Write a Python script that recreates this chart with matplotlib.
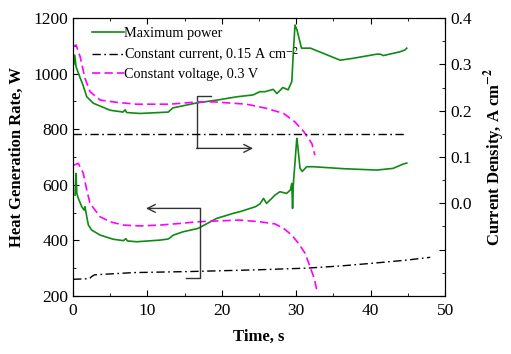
import matplotlib
matplotlib.use("Agg")
import matplotlib.pyplot as plt
from matplotlib.ticker import MultipleLocator, FuncFormatter

plt.rcParams['font.family'] = ['Liberation Serif', 'DejaVu Serif']
plt.rcParams['mathtext.fontset'] = 'stix'

# ---- Heat generation rate (left axis, W) ----
mp_heat_t = [0.27, 0.4, 0.5, 0.71, 1.17, 1.48, 1.6, 1.84, 2.06, 2.5, 3.63, 5.4, 6.76, 7.1, 7.3,
             8.56, 11.7, 12.8, 13.5, 14.8, 16.8, 19.3, 21.5, 22.4, 23.8, 24.5, 25.1, 25.6, 26.0,
             26.7, 27.15, 27.8, 28.7, 29.2, 29.4, 29.5, 29.6, 30.07, 30.2, 30.5, 30.8, 31.4,
             32.3, 36.3, 40.8, 43.0, 44.4, 44.85]
mp_heat_w = [563, 641, 569, 551, 521, 509, 521, 485, 455, 437, 419, 404, 399, 406, 398,
             395, 401, 405, 419, 431, 443, 479, 497, 503, 515, 521, 531, 551, 533,
             551, 563, 575, 569, 581, 605, 515, 600, 767, 740, 660, 648, 665,
             665, 658, 653, 659, 675, 678]

cv_heat_t = [0.13, 0.71, 1.38, 1.84, 2.28, 3.63, 4.97, 6.76, 9.0, 11.7, 14.4, 16.8, 22.4,
             25.1, 27.15, 28.3, 29.4, 30.3, 31.2, 31.85, 32.4, 32.75]
cv_heat_w = [671, 677, 641, 581, 533, 485, 467, 455, 452, 455, 461, 467, 473,
             467, 459, 443, 419, 389, 353, 305, 264, 222]

cc_heat_t = [0.0, 2.2, 2.5, 2.9, 8.1, 16.0, 24.7, 31.4, 36.0, 40.4, 44.85, 48.0]
cc_heat_w = [260, 262, 270, 276, 284, 288, 294, 300, 308, 318, 329, 339]

# ---- Current density (right axis, A cm-2) ----
mp_cd_t = [0.1, 0.23, 0.4, 0.8, 1.34, 1.84, 2.73, 4.97, 6.72, 7.0, 7.2, 9.0, 12.8, 13.4,
           16.7, 19.4, 22.0, 24.2, 25.1, 25.8, 26.9, 27.4, 28.2, 28.9, 29.4, 29.6, 29.83,
           30.1, 30.7, 31.9, 33.6, 35.9, 37.6, 40.8, 41.3, 41.7, 43.9, 44.6, 44.85]
mp_cd_v = [0.30, 0.320, 0.295, 0.277, 0.255, 0.230, 0.216, 0.201, 0.197, 0.202, 0.196, 0.194,
           0.197, 0.206, 0.217, 0.223, 0.230, 0.234, 0.241, 0.241, 0.246, 0.237, 0.250, 0.245,
           0.263, 0.325, 0.385, 0.374, 0.335, 0.335, 0.324, 0.309, 0.313, 0.322, 0.322,
           0.319, 0.327, 0.331, 0.335]

cv_cd_t = [0.04, 0.4, 0.94, 1.6, 2.28, 3.63, 5.87, 8.56, 13.0, 16.8, 18.9, 23.3, 26.0, 28.3,
           29.8, 31.0, 32.1, 32.5]
cv_cd_v = [0.338, 0.342, 0.317, 0.270, 0.241, 0.223, 0.218, 0.214, 0.214, 0.219, 0.219,
           0.214, 0.205, 0.194, 0.176, 0.155, 0.129, 0.104]

cc_cd_t = [0.0, 44.6]
cc_cd_v = [0.15, 0.15]

labels = ["Maximum power", "Constant current, 0.15 A cm$^{-2}$", "Constant voltage, 0.3 V"]

# annotation arrow paths (left axis units)
arrow_up_path_t = [18.5, 16.6, 16.6]
arrow_up_path_w = [919, 919, 731]
arrow_up_end = (24.2, 731)
arrow_lo_path_t = [15.2, 17.0, 17.0]
arrow_lo_path_w = [264, 264, 515]
arrow_lo_end = (9.8, 515)

green = '#0f8a14'
magenta = '#ff00ff'

fig = plt.figure(figsize=(5.11, 3.54), dpi=100)
ax = fig.add_axes([0.143, 0.164, 0.728, 0.785])
ax2 = ax.twinx()

lw = 1.2
dd = (6, 2.5, 1.2, 2.5)
dsh = (5, 2.5)
l1, = ax.plot(mp_heat_t, mp_heat_w, color=green, lw=lw)
l3, = ax.plot(cv_heat_t, cv_heat_w, color=magenta, lw=lw, dashes=dsh)
l2, = ax.plot(cc_heat_t, cc_heat_w, color='black', lw=1.0, dashes=dd)

ax2.plot(mp_cd_t, mp_cd_v, color=green, lw=lw)
ax2.plot(cv_cd_t, cv_cd_v, color=magenta, lw=lw, dashes=dsh)
ax2.plot(cc_cd_t, cc_cd_v, color='black', lw=1.0, dashes=dd)

# arrows
acol = '#333333'
ax.plot(arrow_up_path_t, arrow_up_path_w, color=acol, lw=1.0)
ax.annotate('', xy=arrow_up_end, xytext=(arrow_up_path_t[-1], arrow_up_path_w[-1]),
            arrowprops=dict(arrowstyle='->', color=acol, lw=1.0, shrinkA=0, shrinkB=0,
                            mutation_scale=14))
ax.plot(arrow_lo_path_t, arrow_lo_path_w, color=acol, lw=1.0)
ax.annotate('', xy=arrow_lo_end, xytext=(arrow_lo_path_t[-1], arrow_lo_path_w[-1]),
            arrowprops=dict(arrowstyle='->', color=acol, lw=1.0, shrinkA=0, shrinkB=0,
                            mutation_scale=14))

ax.set_xlim(0, 50)
ax.set_ylim(200, 1200)
ax2.set_ylim(-0.2, 0.4)

ax.xaxis.set_major_locator(MultipleLocator(10))
ax.xaxis.set_minor_locator(MultipleLocator(5))
ax.yaxis.set_major_locator(MultipleLocator(200))
ax.yaxis.set_minor_locator(MultipleLocator(100))
ax2.yaxis.set_major_locator(MultipleLocator(0.1))
ax2.yaxis.set_minor_locator(MultipleLocator(0.05))
ax2.yaxis.set_major_formatter(FuncFormatter(lambda v, p: '' if v < -1e-9 else f'{v:.1f}'))

ax.tick_params(axis='x', which='both', direction='in', top=True, labelsize=12.5, pad=5)
ax.tick_params(axis='y', which='both', direction='in', right=False, labelsize=12.5)
ax.tick_params(which='major', length=4)
ax.tick_params(which='minor', length=2.5)
ax2.tick_params(axis='y', which='both', direction='in', labelsize=12.5)
ax2.tick_params(which='major', length=4)
ax2.tick_params(which='minor', length=2.5)

ax.set_xlabel('Time, s', fontsize=12, fontweight='bold', labelpad=7)
ax.set_ylabel('Heat Generation Rate, W', fontsize=12, fontweight='bold', labelpad=6)
ax2.set_ylabel(r'Current Density, A cm$^{\mathbf{-2}}$', fontsize=12, fontweight='bold', labelpad=8)

ax2.legend([l1, l2, l3], labels, loc='upper left', bbox_to_anchor=(0.028, 1.0),
           frameon=False, fontsize=10.3, handlelength=2.2, handletextpad=0.05,
           labelspacing=0.38, borderaxespad=0.2)

fig.savefig('out.png', dpi=100)
